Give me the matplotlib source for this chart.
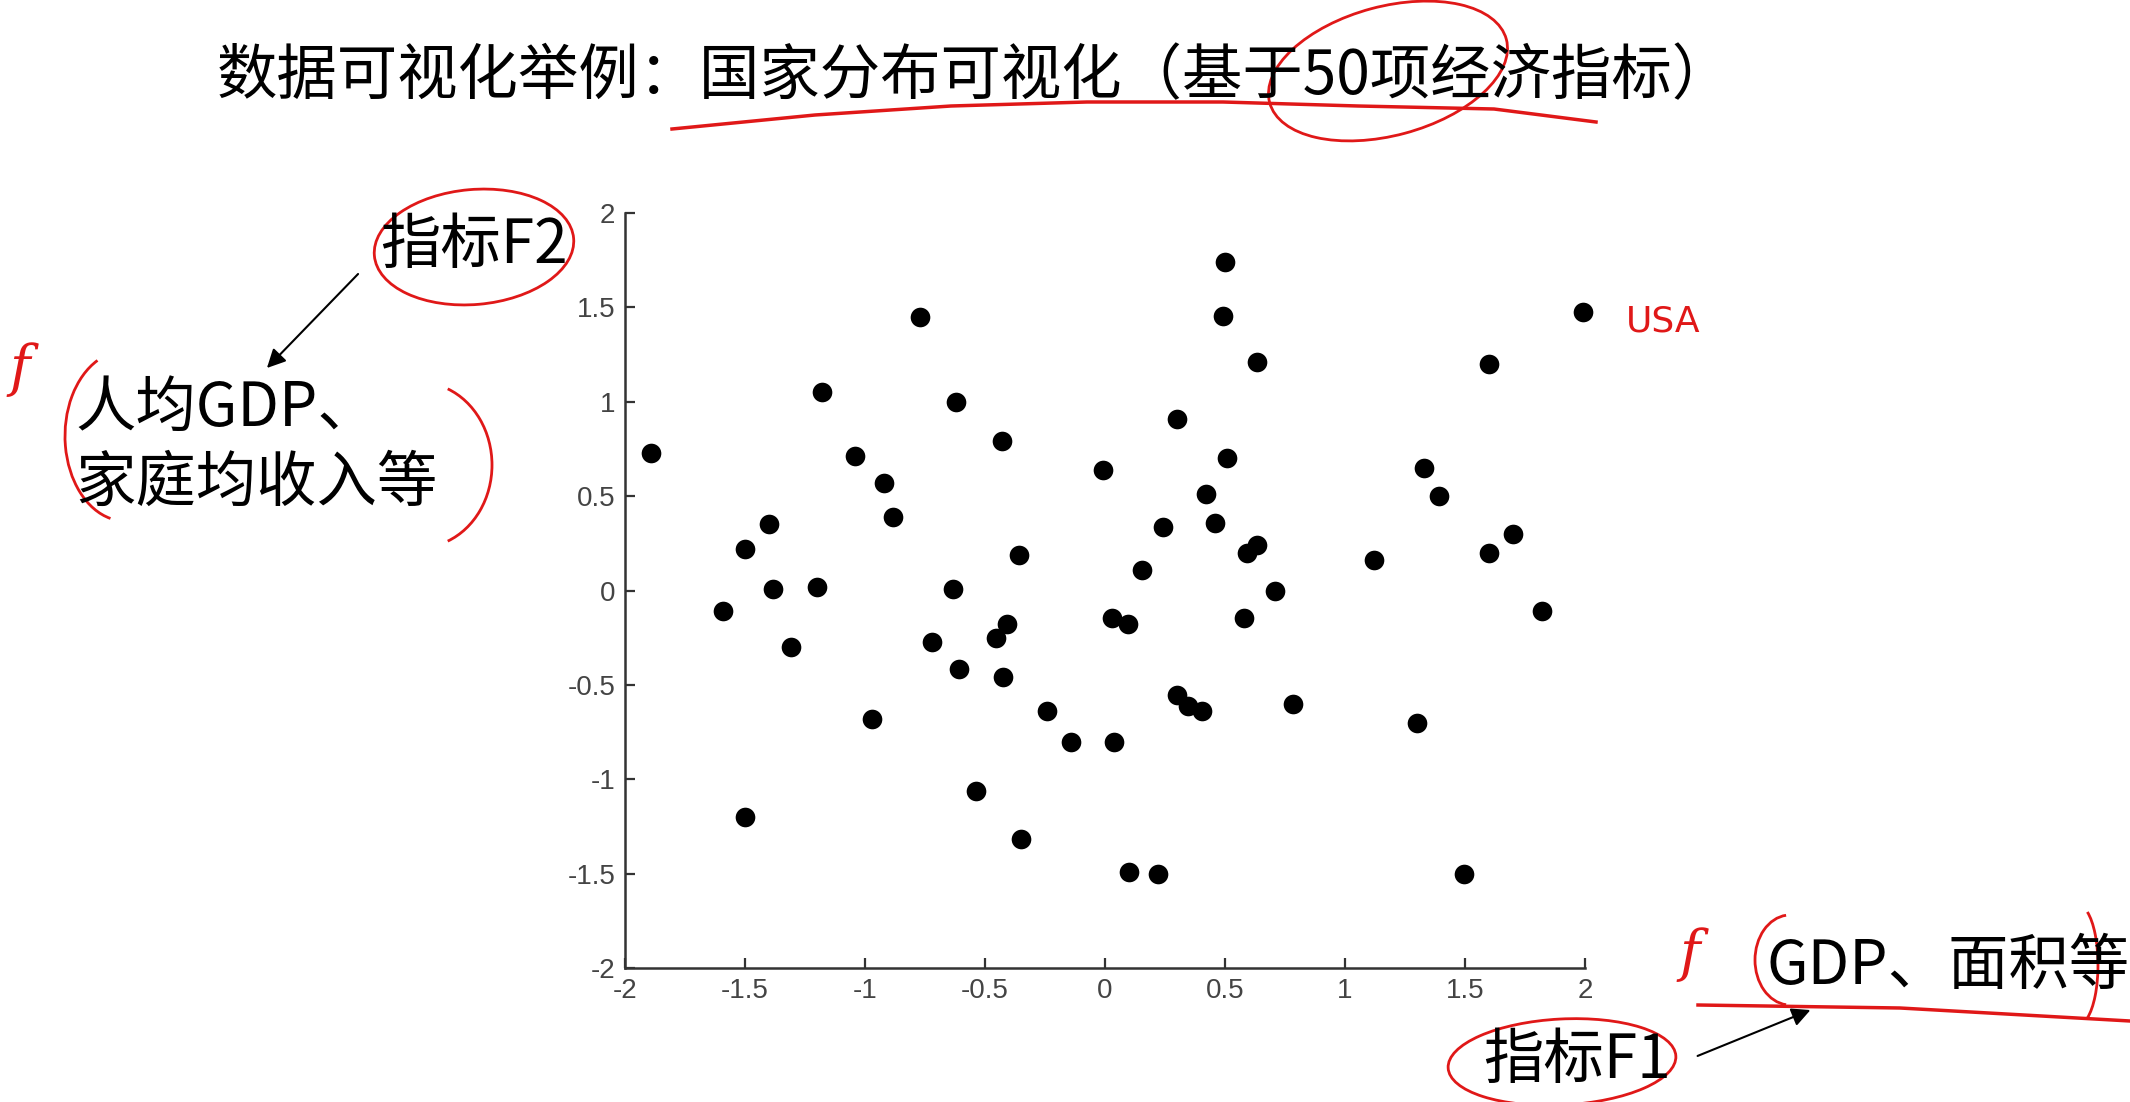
import matplotlib.pyplot as plt
from matplotlib.patches import Ellipse, Arc

# indicator F1 (x) and F2 (y) of each country
f1 = [-1.89, -1.18, -0.77, -0.62, -0.43, -1.04, -0.92, -0.885, -1.40, -1.50,
      -0.36, -1.385, -1.20, -0.635, -0.01,
      0.50, 0.49, 0.635, 1.99, 1.60, 0.30, 0.51, 0.42, 0.24, 0.46,
      0.59, 0.635, 0.156, 0.71, 1.12, 1.33, 1.39, 1.70, 1.60,
      -1.59, -1.31, -0.72, -0.41, -0.455, -0.61, -0.425, -0.97, -0.24, -0.14,
      -0.536, -1.50, -0.35,
      0.03, 0.094, 0.58, 1.82, 0.30, 0.347, 0.406, 0.784, 1.30, 0.037,
      0.10, 0.22, 1.495]
f2 = [0.73, 1.05, 1.45, 1.00, 0.79, 0.71, 0.57, 0.39, 0.35, 0.22,
      0.19, 0.01, 0.02, 0.01, 0.64,
      1.74, 1.455, 1.21, 1.476, 1.20, 0.91, 0.70, 0.51, 0.335, 0.36,
      0.20, 0.24, 0.11, 0.0, 0.16, 0.65, 0.50, 0.30, 0.20,
      -0.11, -0.30, -0.275, -0.18, -0.25, -0.415, -0.46, -0.68, -0.64, -0.80,
      -1.06, -1.20, -1.315,
      -0.147, -0.18, -0.147, -0.11, -0.555, -0.61, -0.64, -0.60, -0.70, -0.80,
      -1.49, -1.50, -1.50]

ticks = [-2, -1.5, -1, -0.5, 0, 0.5, 1, 1.5, 2]
tick_labels = ['-2', '-1.5', '-1', '-0.5', '0', '0.5', '1', '1.5', '2']

title = '数据可视化举例：国家分布可视化（基于50项经济指标）'

plt.rcParams['font.family'] = ['Noto Sans CJK SC', 'DejaVu Sans']

W, H = 2130, 1102
fig = plt.figure(figsize=(W / 100, H / 100), dpi=100)
fig.patch.set_facecolor('white')

ax = fig.add_axes([625 / W, 1 - 968 / H, 960 / W, (968 - 213) / H])
ax.scatter(f1, f2, s=200, c='black', linewidths=0, zorder=3, clip_on=False)
ax.set_xlim(-2, 2)
ax.set_ylim(-2, 2)
ax.set_xticks(ticks)
ax.set_yticks(ticks)
ax.set_xticklabels(tick_labels, family='Liberation Sans', fontsize=20, color='#444444')
ax.set_yticklabels(tick_labels, family='Liberation Sans', fontsize=20, color='#444444')
ax.tick_params(direction='in', length=7, width=1.6, color='#333333', pad=7)
for s in ['top', 'right']:
    ax.spines[s].set_visible(False)
for s in ['left', 'bottom']:
    ax.spines[s].set_linewidth(1.8)
    ax.spines[s].set_color('#333333')

# overlay in pixel coords for the slide texts and pen marks
ov = fig.add_axes([0, 0, 1, 1])
ov.set_xlim(0, W)
ov.set_ylim(H, 0)
ov.axis('off')
ov.patch.set_alpha(0)

fs = 43.5
ov.text(217, 77, title, fontsize=fs, ha='left', va='center')
ov.text(380, 246, '指标F2', fontsize=fs, ha='left', va='center')
ov.text(75, 409, '人均GDP、', fontsize=fs, ha='left', va='center')
ov.text(75, 484, '家庭均收入等', fontsize=fs, ha='left', va='center')
ov.text(1766, 967, 'GDP、面积等', fontsize=fs, ha='left', va='center')
ov.text(1483, 1061, '指标F1', fontsize=fs, ha='left', va='center')

arrow = dict(arrowstyle='-|>', color='black', lw=1.5, mutation_scale=28)
ov.annotate('', xy=(265, 370), xytext=(360, 272), arrowprops=arrow)
ov.annotate('', xy=(1813, 1009), xytext=(1695, 1057), arrowprops=arrow)

red = '#e01818'
ov.plot([672, 815, 951, 1087, 1223, 1358, 1494, 1596],
        [129, 115, 106, 102, 102, 106, 109, 122], color=red, lw=2.5)
ov.add_patch(Ellipse((1388, 71), 245, 129, angle=-15, fill=False, ec=red, lw=2))
ov.add_patch(Ellipse((474, 247), 200, 115, angle=-5, fill=False, ec=red, lw=2))
ov.add_patch(Ellipse((1562, 1062), 228, 86, angle=-3, fill=False, ec=red, lw=2))
ov.add_patch(Arc((125, 436), 120, 170, theta1=100, theta2=250, ec=red, lw=2))
ov.add_patch(Arc((420, 465), 144, 165, theta1=-70, theta2=70, ec=red, lw=2))
ov.add_patch(Arc((1790, 960), 70, 90, theta1=95, theta2=265, ec=red, lw=2))
ov.add_patch(Arc((2078, 965), 40, 120, theta1=-80, theta2=80, ec=red, lw=2))
ov.plot([1698, 1900, 2130], [1005, 1008, 1021], color=red, lw=2.5)
ov.text(20, 370, 'f', fontsize=40, color=red, style='italic', family='DejaVu Serif',
        ha='center', va='center')
ov.text(1690, 955, 'f', fontsize=40, color=red, style='italic', family='DejaVu Serif',
        ha='center', va='center')
ov.text(1663, 322, 'USA', fontsize=26, color=red, family='DejaVu Sans',
        ha='center', va='center')

fig.savefig('out.png', dpi=100)
